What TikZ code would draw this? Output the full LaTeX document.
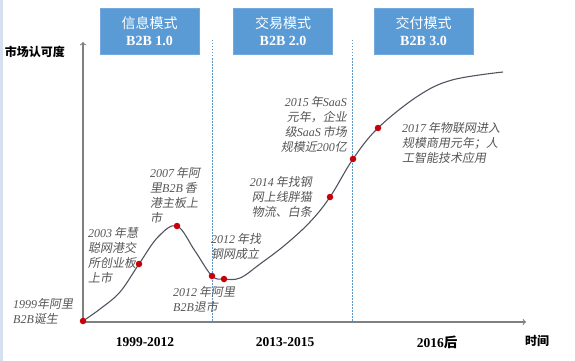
\documentclass[tikz,border=0pt]{standalone}
\usepackage{fontspec}
\setmainfont{Liberation Serif}
\newfontfamily\cjk{Noto Sans CJK SC}
\newfontfamily\cjkit[FakeSlant=0.18]{Noto Sans CJK SC}
\newcommand{\zh}[1]{{\cjkit\upshape #1}}
\definecolor{boxblue}{RGB}{91,155,213}
\definecolor{evgray}{RGB}{85,85,85}
\definecolor{dotred}{RGB}{200,0,10}
\definecolor{eraline}{RGB}{90,150,200}
\definecolor{axgray}{RGB}{128,128,128}
\definecolor{curvegray}{RGB}{80,84,95}
\definecolor{edgeblue}{RGB}{214,224,240}
\tikzset{
  modebox/.style={fill=boxblue, draw=boxblue!85!white, minimum width=99pt, minimum height=46pt,
    text=white, align=center, font=\fontsize{14}{17}\selectfont},
  event/.style={text=evgray, inner sep=0pt, font=\fontsize{12}{15}\selectfont\itshape},
  period/.style={font=\fontsize{13.5}{16}\selectfont\bfseries},
  evdot/.style={circle, fill=dotred, inner sep=0pt, minimum size=6.5pt},
  era/.style={draw=eraline, line width=0.8pt, dash pattern=on 1.5pt off 1.5pt}
}
\begin{document}
\begin{tikzpicture}[x=1pt,y=-1pt]
\useasboundingbox (0,0) rectangle (575,361);
\fill[edgeblue] (0,0) rectangle (2.5,361);
% axes
\coordinate (O) at (83,322);
\coordinate (ytop) at (83,42);
\coordinate (xend) at (526,322);
\path[draw,axgray,line width=1.2pt,->] (O) -- (ytop);
\path[draw,axgray,line width=1.2pt,->] (O) -- (xend);
\node[font=\fontsize{12}{14}\selectfont\bfseries\cjk] (ylab) at (35,52) {市场认可度};
\node[font=\fontsize{12}{14}\selectfont\bfseries\cjk] (xlab) at (537,341) {时间};

% the three modes
\node[modebox] (m1) at (149.5,31) {\cjk 信息模式\\\textbf{B2B 1.0}};
\node[modebox] (m2) at (283,31) {\cjk 交易模式\\\textbf{B2B 2.0}};
\node[modebox] (m3) at (423.5,31) {\cjk 交付模式\\\textbf{B2B 3.0}};

% era borders
\coordinate (e1top) at (212,40);
\coordinate (e1bot) at (212,322);
\coordinate (e2top) at (352,40);
\coordinate (e2bot) at (352,322);
\path[era] (e1top) -- (e1bot);
\path[era] (e2top) -- (e2bot);

\node[period] (p1) at (145,342) {1999-2012};
\node[period] (p2) at (285,342) {2013-2015};
\node[period] (p3) at (437,342) {2016\cjk 后};

% acceptance curve
\draw[curvegray,line width=1.1pt] plot[smooth,tension=0.6] coordinates {
  (83,321) (100,309) (120,292) (139,264) (158,237) (177,226) (195,251) (212,276)
  (224,279) (240,278) (260,264) (285,245) (310,222) (330,197) (353,159) (378,128)
  (418,96) (452,80) (503,72)};

\node[evdot] (d1) at (83,321) {};
\node[evdot] (d2) at (139,264) {};
\node[evdot] (d3) at (177,226) {};
\node[evdot] (d4) at (212,276) {};
\node[evdot] (d5) at (224,279) {};
\node[evdot] (d6) at (330,197) {};
\node[evdot] (d7) at (353,159) {};
\node[evdot] (d8) at (378,128) {};

% events
\node[event,align=left,anchor=west] (t1) at (13,311.5) {1999\zh{年阿里}\\B2B\zh{诞生}};
\node[event,align=left,anchor=west] (t2) at (88,255) {2003\,\zh{年慧}\\\zh{聪网港交}\\\zh{所创业板}\\\zh{上市}};
\node[event,align=left,anchor=west] (t3) at (150,195) {2007\,\zh{年阿}\\\zh{里}B2B\,\zh{香}\\\zh{港主板上}\\\zh{市}};
\node[event,align=left,anchor=west] (t4) at (211,246) {2012\,\zh{年找}\\\zh{钢网成立}};
\node[event,align=left,anchor=west] (t5) at (173,299.5) {2012\,\zh{年阿里}\\B2B\zh{退市}};
\node[event,align=right,anchor=east] (t6) at (312,197) {2014\,\zh{年找钢}\\\zh{网上线胖猫}\\\zh{物流、白条}};
\node[event,align=right,anchor=east] (t7) at (347,124.5) {2015\,\zh{年}SaaS\\\zh{元年，企业}\\\zh{级}SaaS\,\zh{市场}\\\zh{规模近}200\zh{亿}};
\node[event,align=left,anchor=west] (t8) at (402,142.5) {2017\,\zh{年物联网进入}\\\zh{规模商用元年；人}\\\zh{工智能技术应用}};
\end{tikzpicture}
\end{document}
